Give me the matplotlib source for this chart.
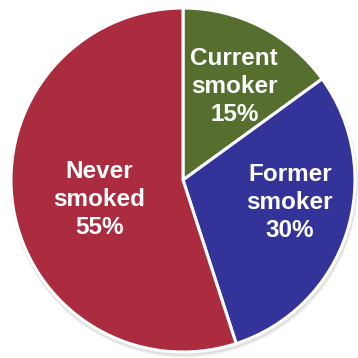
import numpy as np
import matplotlib.pyplot as plt
from matplotlib.patches import Circle

labels = ["Current\nsmoker", "Former\nsmoker", "Never\nsmoked"]
shares = [15, 30, 55]
colors = ["#566F2F", "#343399", "#AC2C3F"]
# label anchor per wedge: fraction of radius, and angle nudge off the mid-line (deg)
label_dist = [0.62, 0.635, 0.50]
label_turn = [-1.7, 6.0, 4.0]

plt.rcParams["font.family"] = ["Liberation Sans", "DejaVu Sans"]

fig = plt.figure(figsize=(3.58, 3.58), dpi=100)
ax = fig.add_axes([0, 0, 1, 1])

cx, cy, r = 183, 178, 172

# soft drop shadow under the pie
for off, c in [(3.5, "#ececec"), (2.0, "#e0e0e0")]:
    ax.add_patch(Circle((cx + off * 0.3, cy - off), r + 1, color=c, zorder=0))

wedges, _ = ax.pie(shares, colors=colors, startangle=90, counterclock=False,
                   center=(cx, cy), radius=r, frame=True,
                   wedgeprops=dict(edgecolor="white", linewidth=2.2))
ax.set_xlim(0, 358)
ax.set_ylim(0, 358)
ax.set_aspect("equal")
ax.axis("off")

for w, lab, v, d, t in zip(wedges, labels, shares, label_dist, label_turn):
    mid = np.deg2rad((w.theta1 + w.theta2) / 2 + t)
    x = cx + d * r * np.cos(mid)
    y = cy + d * r * np.sin(mid)
    ax.text(x, y, f"{lab}\n{v}%", ha="center", va="center", color="white",
            fontsize=17.5, fontweight="bold", linespacing=1.27, zorder=5)

fig.savefig("out.png", dpi=100)
